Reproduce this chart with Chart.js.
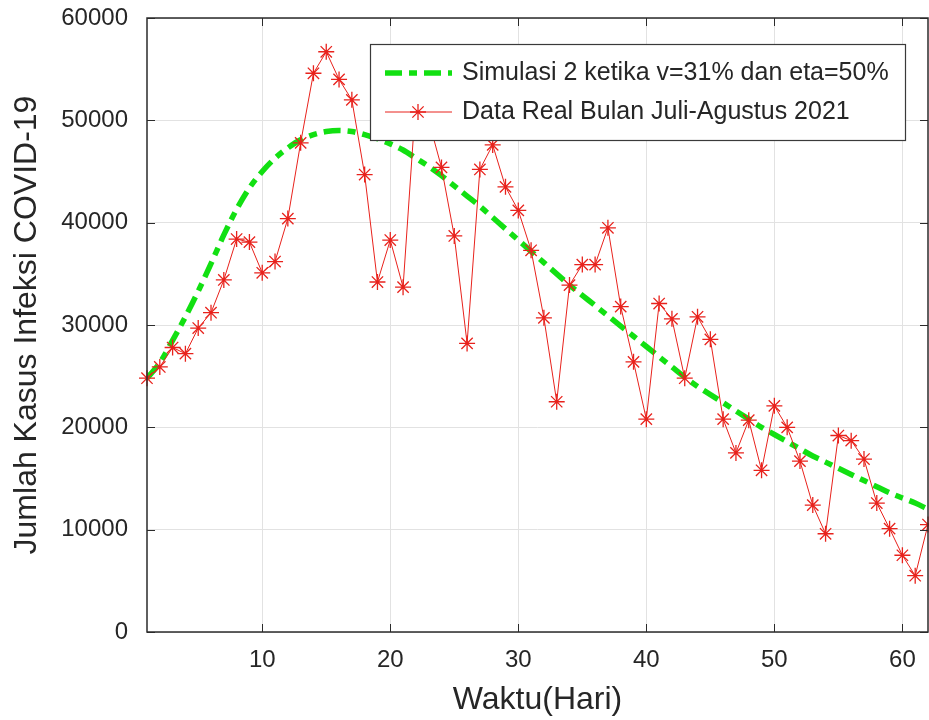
<!DOCTYPE html>
<html><head><meta charset="utf-8">
<script src="https://cdn.jsdelivr.net/npm/chart.js@4/dist/chart.umd.min.js"></script>
<style>html,body{margin:0;padding:0;background:#fff;}</style>
</head><body>
<canvas id="c" width="929" height="720"></canvas>
<script>
const days = [1,2,3,4,5,6,7,8,9,10,11,12,13,14,15,16,17,18,19,20,21,22,23,24,25,26,27,28,29,30,31,32,33,34,35,36,37,38,39,40,41,42,43,44,45,46,47,48,49,50,51,52,53,54,55,56,57,58,59,60,61,62];
const simulasi = [24800,26300,28500,30800,33300,36000,38800,41300,43400,45000,46300,47300,48100,48600,48900,49000,48900,48600,48200,47700,47100,46300,45500,44600,43600,42600,41600,40500,39400,38300,37200,36100,35000,33900,32900,31900,30900,29900,28900,27900,26900,25900,24900,24000,23200,22400,21600,20800,20000,19300,18600,17900,17200,16600,16000,15400,14800,14200,13600,13100,12600,12000];
const dataReal = [24800,25900,27800,27200,29700,31200,34400,38400,38100,35100,36200,40400,47800,54600,56700,54000,52000,44700,34200,38300,33700,52000,50000,45400,38700,28200,45200,47600,43500,41200,37300,30700,22500,33900,35900,35900,39500,31800,26400,20800,32100,30600,24800,30800,28600,20800,17500,20700,15800,22100,20000,16700,12400,9600,19200,18700,16900,12600,10100,7500,5500,10500];
const xTicks = [10,20,30,40,50,60];
const yTicks = [0,10000,20000,30000,40000,50000,60000];
const labelSim = 'Simulasi 2 ketika v=31% dan eta=50%';
const labelReal = 'Data Real Bulan Juli-Agustus 2021';
const xTitle = 'Waktu(Hari)';
const yTitle = 'Jumlah Kasus Infeksi COVID-19';

const FONT = '"Liberation Sans", Arial, Helvetica, sans-serif';
const TXT = '#262626';
const GREEN = '#12e012';
const RED = '#e8221c';
const DASH = [17, 7, 8, 7];

function drawStar(ctx, cx, cy, r) {
  ctx.beginPath();
  for (let k = 0; k < 4; k++) {
    const a = k * Math.PI / 4;
    ctx.moveTo(cx - r * Math.cos(a), cy - r * Math.sin(a));
    ctx.lineTo(cx + r * Math.cos(a), cy + r * Math.sin(a));
  }
  ctx.stroke();
}

const overlay = {
  id: 'overlay',
  afterDraw(chart) {
    const {ctx, chartArea: a, scales: {x, y}} = chart;
    ctx.save();
    ctx.strokeStyle = '#2b2b2b';
    ctx.lineWidth = 1;
    const tl = 8;
    ctx.beginPath();
    xTicks.forEach(v => {
      const px = Math.round(x.getPixelForValue(v)) + 0.5;
      ctx.moveTo(px, a.bottom); ctx.lineTo(px, a.bottom - tl);
      ctx.moveTo(px, a.top); ctx.lineTo(px, a.top + tl);
    });
    yTicks.forEach(v => {
      const py = Math.round(y.getPixelForValue(v)) + 0.5;
      ctx.moveTo(a.left, py); ctx.lineTo(a.left + tl, py);
      ctx.moveTo(a.right, py); ctx.lineTo(a.right - tl, py);
    });
    ctx.stroke();
    ctx.lineWidth = 1.5;
    ctx.strokeRect(a.left, a.top, a.right - a.left, a.bottom - a.top);

    // legend box
    const lx = 370, ly = 44, lw = 535, lh = 96;
    ctx.fillStyle = '#ffffff';
    ctx.fillRect(lx, ly, lw, lh);
    ctx.lineWidth = 1.2;
    ctx.strokeStyle = '#3a3a3a';
    ctx.strokeRect(lx + 0.5, ly + 0.5, lw, lh);
    const r1 = ly + 29, r2 = ly + 68;
    ctx.strokeStyle = GREEN; ctx.lineWidth = 5.5;
    ctx.setLineDash(DASH);
    ctx.beginPath(); ctx.moveTo(385, r1); ctx.lineTo(452, r1); ctx.stroke();
    ctx.setLineDash([]);
    ctx.strokeStyle = RED; ctx.lineWidth = 1;
    ctx.beginPath(); ctx.moveTo(385, r2); ctx.lineTo(452, r2); ctx.stroke();
    ctx.lineWidth = 1.3;
    drawStar(ctx, 418, r2, 8);
    ctx.fillStyle = TXT;
    ctx.font = '25px ' + FONT;
    ctx.textBaseline = 'middle';
    ctx.textAlign = 'left';
    ctx.fillText(labelSim, 462, r1);
    ctx.fillText(labelReal, 462, r2);
    ctx.restore();
  }
};

new Chart(document.getElementById('c'), {
  type: 'line',
  data: {
    datasets: [
      {
        label: labelReal,
        data: days.map((d, i) => ({x: d, y: dataReal[i]})),
        borderColor: RED,
        borderWidth: 1,
        pointStyle: 'star',
        pointRadius: 8,
        pointBorderWidth: 1.3,
        pointBorderColor: RED,
        pointBackgroundColor: RED,
        tension: 0,
        clip: false,
        order: 1
      },
      {
        label: labelSim,
        data: days.map((d, i) => ({x: d, y: simulasi[i]})),
        borderColor: GREEN,
        borderWidth: 5.5,
        borderDash: DASH,
        pointRadius: 0,
        tension: 0.4,
        cubicInterpolationMode: 'monotone',
        order: 2
      }
    ]
  },
  options: {
    responsive: false,
    animation: false,
    devicePixelRatio: 1,
    layout: {autoPadding: false, padding: {top: 18, right: 1, bottom: 0, left: 0}},
    plugins: {legend: {display: false}, tooltip: {enabled: false}},
    scales: {
      x: {
        type: 'linear', min: 1, max: 62,
        afterBuildTicks: ax => { ax.ticks = xTicks.map(v => ({value: v})); },
        afterFit: s => { s.height = 88; s.paddingLeft = 0; s.paddingRight = 0; },
        grid: {color: '#e2e2e2', lineWidth: 1, drawTicks: false},
        border: {display: false},
        ticks: {color: TXT, font: {family: FONT, size: 24}, padding: 14, maxRotation: 0, autoSkip: false},
        title: {display: true, text: xTitle, color: TXT, font: {family: FONT, size: 32}, padding: {top: 0, bottom: 1}}
      },
      y: {
        type: 'linear', min: 0, max: 60000,
        afterBuildTicks: ax => { ax.ticks = yTicks.map(v => ({value: v})); },
        afterFit: s => { s.width = 147; s.paddingTop = 0; s.paddingBottom = 0; },
        grid: {color: '#e2e2e2', lineWidth: 1, drawTicks: false},
        border: {display: false},
        ticks: {color: TXT, font: {family: FONT, size: 24}, padding: 19, callback: v => String(v)},
        title: {display: true, text: yTitle, color: TXT, font: {family: FONT, size: 32}, padding: {top: 8, bottom: 0}}
      }
    }
  },
  plugins: [overlay]
});
</script>
</body></html>
